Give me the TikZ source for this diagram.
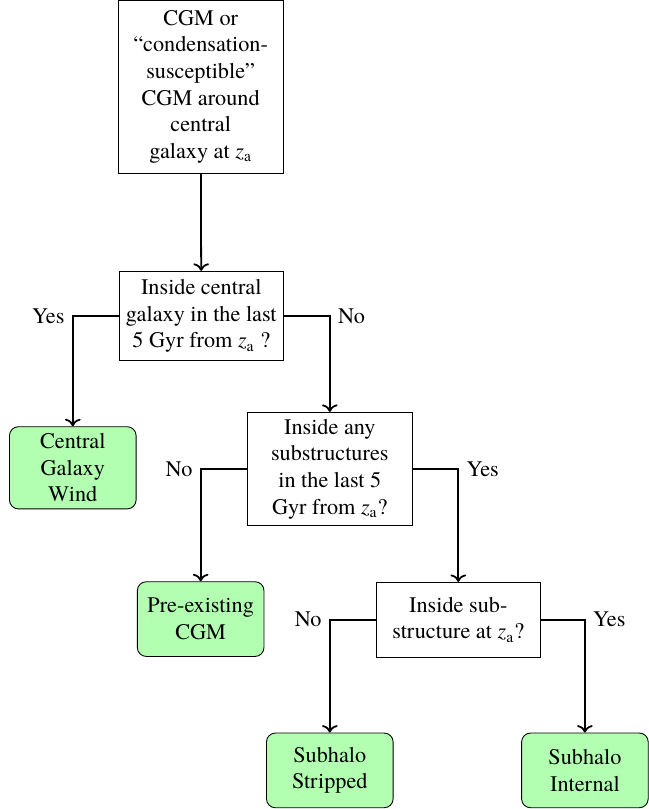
\documentclass[tikz,border=0pt]{standalone}
\usepackage{fontspec}
\setmainfont{texgyretermes}[Extension=.otf, UprightFont=*-regular, ItalicFont=*-italic,
  BoldFont=*-bold, BoldItalicFont=*-bolditalic]
\usetikzlibrary{arrows.meta}
\usetikzlibrary{positioning}
\newcommand{\za}{\textit{z}\textsubscript{a}}
\tikzset{decision/.style = {draw, rectangle, align=center,
                            minimum width=2.6cm, minimum height=1.18cm, inner sep=3pt},
         outcome/.style = {draw, rectangle, rounded corners, fill=green!30, align=center,
                           minimum width=2cm, minimum height=1.18cm, inner sep=3pt},
         flow/.style = {->, thick}}

\begin{document}
\begin{tikzpicture}
  \useasboundingbox (0,0) rectangle (10.24,-12.78);

  \node[decision, minimum height=2.73cm] (cgm) at (3.17,-1.37)
    {CGM or\\“condensation-\\susceptible”\\CGM around\\central\\galaxy at \za};
  \node[decision, minimum height=1.41cm] (incentral) at (3.18,-4.99)
    {Inside central\\galaxy in the last\\5 Gyr from \za\ ?};
  \node[outcome, minimum height=1.28cm] (cgwind) at (1.15,-7.39)
    {Central\\Galaxy\\Wind};
  \node[decision, minimum height=1.77cm] (insub) at (5.21,-7.41)
    {Inside any\\substructures\\in the last 5\\Gyr from \za?};
  \node[outcome] (preexist) at (3.17,-9.78) {Pre-existing\\CGM};
  \node[decision] (atsub) at (7.24,-9.79) {Inside sub-\\structure at \za?};
  \node[outcome] (stripped) at (5.21,-12.17) {Subhalo\\Stripped};
  \node[outcome] (internal) at (9.24,-12.17) {Subhalo\\Internal};

  \draw[flow] (cgm) -- (incentral);
  \draw[flow] (incentral.west) -| (cgwind.north) node[pos=0.5, left] {Yes};
  \draw[flow] (incentral.east) -| (insub.north) node[pos=0.5, right] {No};
  \draw[flow] (insub.west) -| (preexist.north) node[pos=0.5, left] {No};
  \draw[flow] (insub.east) -| (atsub.north) node[pos=0.5, right] {Yes};
  \draw[flow] (atsub.west) -| (stripped.north) node[pos=0.5, left] {No};
  \draw[flow] (atsub.east) -| (internal.north) node[pos=0.5, right] {Yes};
\end{tikzpicture}
\end{document}
